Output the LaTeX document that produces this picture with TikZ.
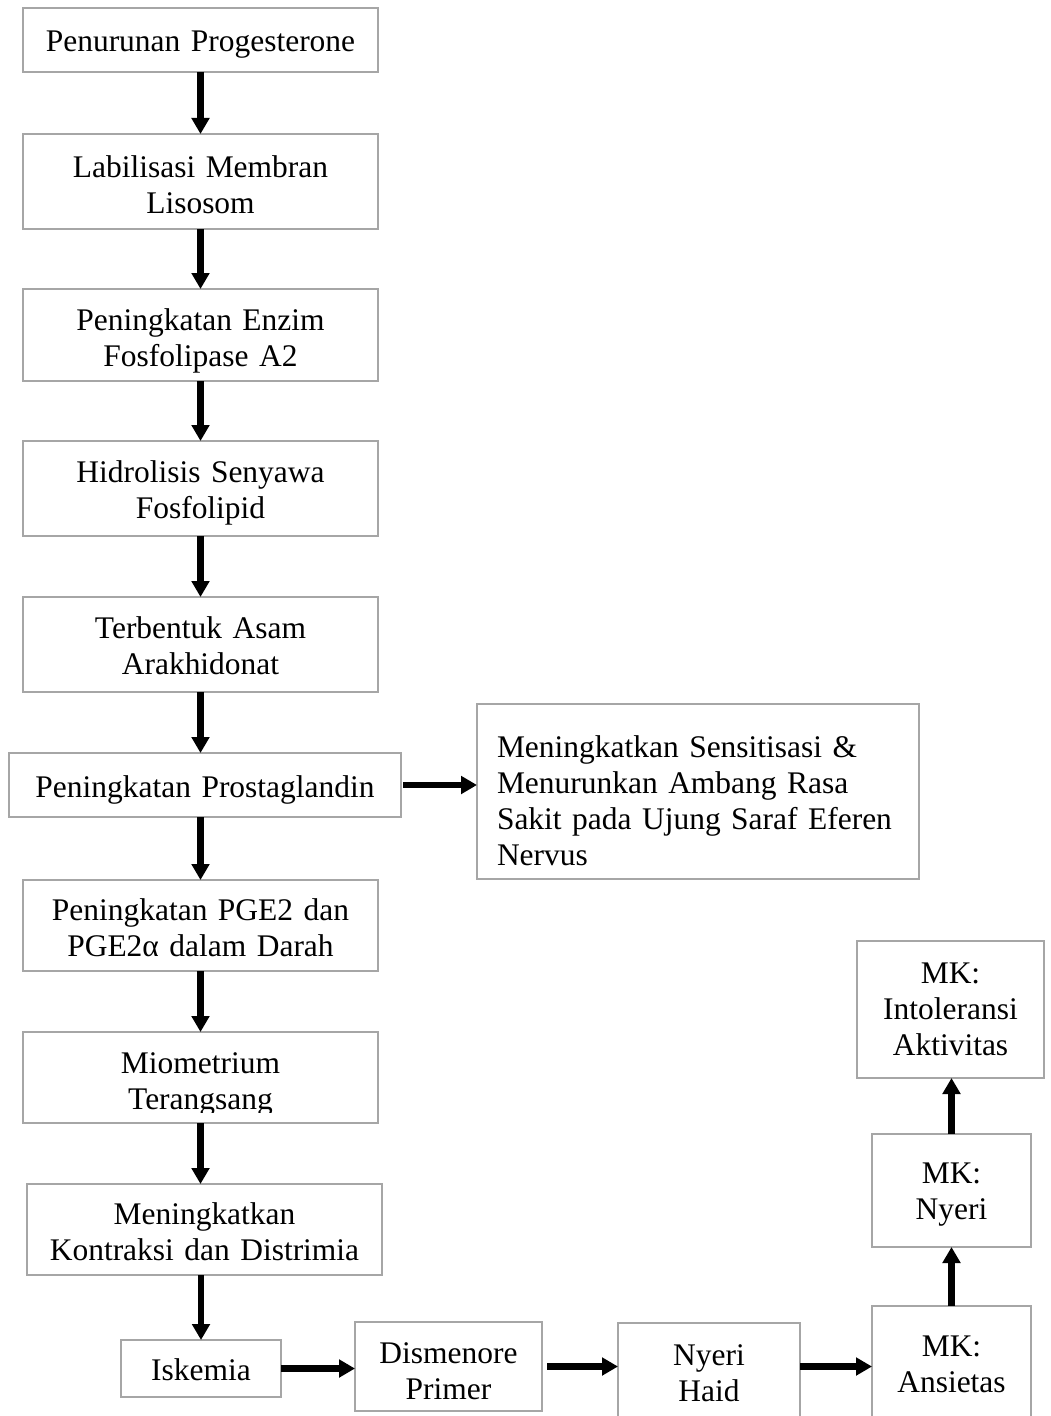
\documentclass[tikz,border=0pt]{standalone}
\usepackage{fontspec}
\setmainfont{Liberation Serif}
\usetikzlibrary{arrows.meta}
\definecolor{boxgray}{HTML}{A6A6A6}
\begin{document}
\begin{tikzpicture}[x=0.75pt,y=-0.75pt,
  box/.style={draw=boxgray, line width=1.3pt, fill=white, inner sep=0pt, outer sep=0pt,
    align=center, anchor=north, font=\fontsize{23.6}{27}\selectfont},
  sz/.style n args={3}{text width=#1, minimum width=#1, text height=#2, text depth=#3},
  boxline/.style={draw=boxgray, line width=1.3pt},
  arr/.style={line width=4.8pt, -{Triangle[length=12pt,width=13pt]}}]
\useasboundingbox (0,0) rectangle (1050,1416);
\fill[white] (0,0) rectangle (1050,1416);
\clip (0,0) rectangle (1050,1416);

% left column
\node[box, sz={266.25pt}{33pt}{15pt}] (n1) at (200.5,8) {Penurunan Progesterone};
\node[box, sz={266.25pt}{32.25pt}{39pt}] (n2) at (200.5,134) {Labilisasi Membran\\Lisosom};
\node[box, sz={266.25pt}{30.75pt}{38.25pt}] (n3) at (200.5,289) {Peningkatan Enzim\\Fosfolipase A2};
\node[box, sz={266.25pt}{30.75pt}{40.5pt}] (n4) at (200.5,441) {Hidrolisis Senyawa\\Fosfolipid};
\node[box, sz={266.25pt}{30.75pt}{40.5pt}] (n5) at (200.5,597) {Terbentuk Asam\\Arakhidonat};
\node[box, sz={294pt}{33pt}{15pt}] (n6) at (205,753) {Peningkatan Prostaglandin};
\node[box, sz={301.5pt}{39.75pt}{91.5pt}, minimum width=331.5pt, align=left] (n7) at (698,704)
  {Meningkatkan Sensitisasi \&\\Menurunkan Ambang Rasa\\Sakit pada Ujung Saraf Eferen\\Nervus};
\node[box, sz={266.25pt}{30pt}{38.25pt}] (n8) at (200.5,880) {Peningkatan PGE2 dan\\PGE2α dalam Darah};
\begin{scope}
  \clip (0,1000) rectangle (1050,1112);
  \node[box, draw=none, sz={266.25pt}{30.75pt}{37.5pt}] (n9) at (200.5,1032) {Miometrium\\Terangsang};
\end{scope}
\draw[boxline] (n9.south west) rectangle (n9.north east);
\node[box, sz={266.25pt}{30pt}{38.25pt}] (n10) at (204.5,1184) {Meningkatkan\\Kontraksi dan Distrimia};

% bottom row
\node[box, sz={120pt}{30pt}{12.75pt}] (n11) at (201,1340) {Iskemia};
\node[box, sz={140.25pt}{30.75pt}{36pt}] (n12) at (448.5,1322) {Dismenore\\Primer};
\node[box, sz={136.5pt}{31.5pt}{43.5pt}] (n13) at (709,1323) {Nyeri\\Haid};
\node[box, sz={119.25pt}{37.5pt}{52.5pt}] (n14) at (951.5,1306) {MK:\\Ansietas};
\node[box, sz={119.25pt}{36.75pt}{48pt}] (n15) at (951.5,1134) {MK:\\Nyeri};
\node[box, sz={140.25pt}{31.5pt}{71.25pt}] (n16) at (950.5,941) {MK:\\Intoleransi\\Aktivitas};

% connectors
\draw[arr] (n1.south) -- (n2.north);
\draw[arr] (n2.south) -- (n3.north);
\draw[arr] (n3.south) -- (n4.north);
\draw[arr] (n4.south) -- (n5.north);
\draw[arr] (n5.south) -- (n5.south |- n6.north);
\draw[arr, shorten <=1.5pt] (n6.east) -- (n6.east -| n7.west);
\draw[arr] (n8.north |- n6.south) -- (n8.north);
\draw[arr] (n8.south) -- (n9.north);
\draw[arr] (n9.south) -- (n9.south |- n10.north);
\draw[arr] (n11.north |- n10.south) -- (n11.north);
\draw[arr] (n11.east) -- (n11.east -| n12.west);
\draw[arr, shorten <=3.75pt] (n12.east) -- (n12.east -| n13.west);
\draw[arr] (n13.east |- n12.east) -- (n14.west |- n12.east);
\draw[arr] (n14.north) -- (n15.south);
\draw[arr] (n15.north) -- (n15.north |- n16.south);
\end{tikzpicture}
\end{document}
